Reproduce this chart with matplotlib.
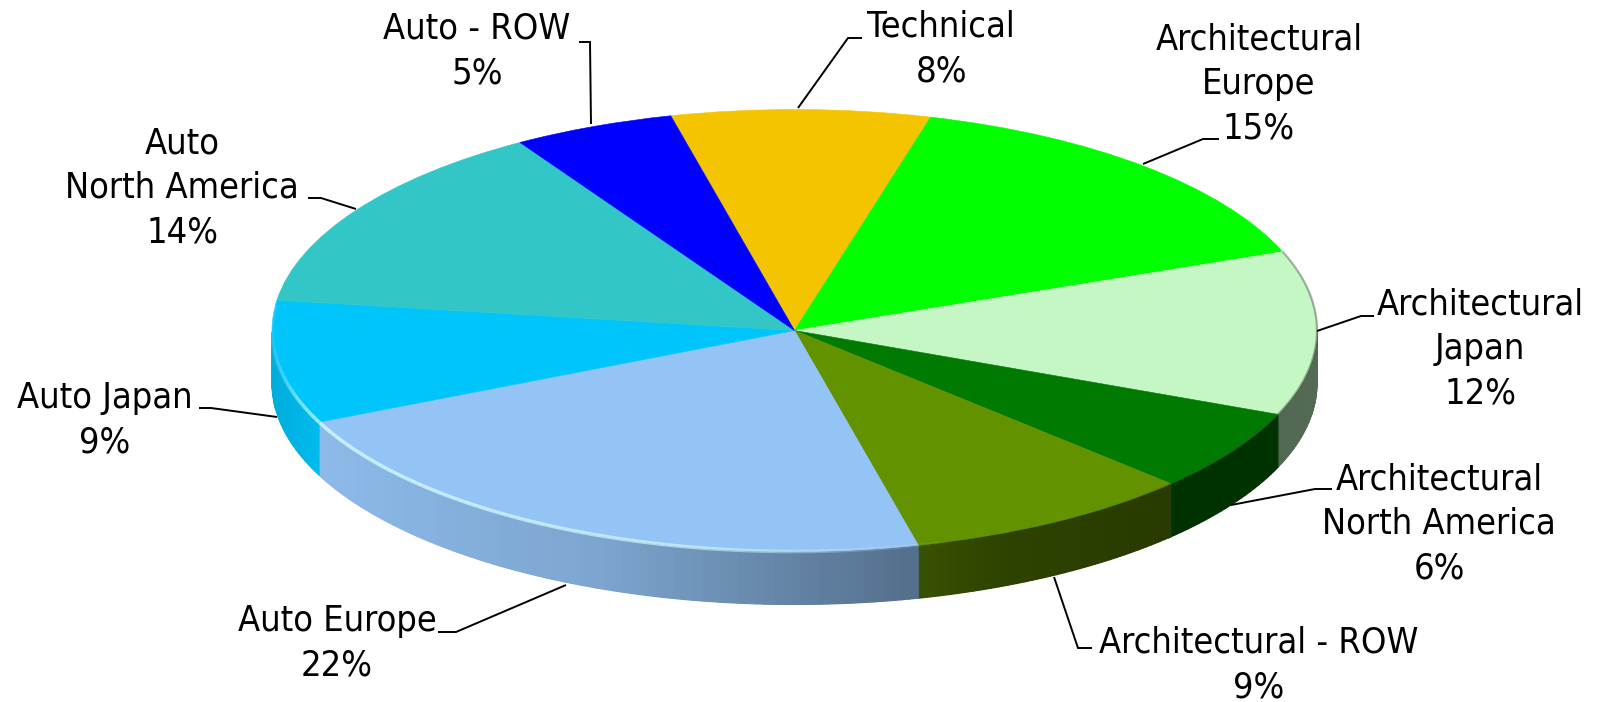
import numpy as np
import matplotlib
matplotlib.use("Agg")
import matplotlib.pyplot as plt
from matplotlib.collections import PolyCollection, LineCollection
from matplotlib.colors import to_rgb

# ---- data ----
categories = ["Technical", "Architectural\nEurope", "Architectural\nJapan",
              "Architectural\nNorth America", "Architectural - ROW", "Auto Europe",
              "Auto Japan", "Auto\nNorth America", "Auto - ROW"]
shares = [8, 15, 12, 6, 9, 22, 9, 14, 5]
colors = ["#F5C400", "#00FF00", "#C5F7C5", "#007A00", "#639200", "#94C4F6",
          "#00C5FA", "#32C6C6", "#0000FF"]

# ---- layout (pixels of the 1598x702 canvas) ----
W, H = 1598, 702
CX, CY, RX, RY, DEPTH = 794.5, 330.5, 522.5, 221.0, 53.0
START = 103.7
FS = 25.9
LINESP = 1.375
label_pos = [(941, 49), (1259, 84), (1480, 349), (1439, 524), (1259, 665),
             (337, 643), (105, 420), (182, 188), (477, 51)]
leaders = [[(862, 38), (848, 38), (798, 108)],
           [(1219, 139), (1203, 139), (1143, 164)],
           [(1374, 316), (1361, 316), (1317, 331)],
           [(1332, 489), (1315, 489), (1231, 505)],
           [(1092, 648), (1078, 648), (1054, 577)],
           [(438, 632), (456, 632), (566, 585)],
           [(199, 408), (211, 408), (277, 417)],
           [(308, 198), (321, 198), (356, 209)],
           [(579, 42), (590, 42), (591, 124)]]

fig = plt.figure(figsize=(W / 100, H / 100), dpi=100, facecolor="white")
ax = fig.add_axes([0, 0, 1, 1])

wedges, _ = ax.pie(shares, colors=colors, startangle=START, counterclock=False,
                   wedgeprops=dict(linewidth=0.4, zorder=2))
for w, c in zip(wedges, colors):
    w.set_edgecolor(c)
ax.set_aspect("auto")
ax.set_xlim(-CX / RX, (W - CX) / RX)
ax.set_ylim((CY - H) / RY, CY / RY)
ax.axis("off")

d = DEPTH / RY
shade_x = [-1.0, -0.91, -0.37, 0.24, 0.39, 0.72, 1.0]
shade_v = [0.88, 0.95, 0.84, 0.56, 0.46, 0.40, 0.43]

polys, polycols, segs, segcols, seglws = [], [], [], [], []
edges = START - np.cumsum([0] + shares) * 3.6
for i, c in enumerate(colors):
    rgb = np.array(to_rgb(c))
    th = np.radians(np.arange(edges[i], edges[i + 1] - 0.5, -1.0))
    th = np.append(th, np.radians(edges[i + 1]))
    base_top, base_bot, base_f = [], [], []
    for a, b in zip(th[:-1], th[1:]):
        xa, ya, xb, yb = np.cos(a), np.sin(a), np.cos(b), np.sin(b)
        xm, ym = (xa + xb) / 2, (ya + yb) / 2
        if ym < 0.0:
            f = np.interp(xm, shade_x, shade_v)
            col = rgb * f
            polys.append([(xa, ya), (xb, yb), (xb, yb - d), (xa, ya - d)])
            polycols.append(col)
            base_top += [(xa, ya), (xb, yb)]
            base_bot += [(xa, ya - d), (xb, yb - d)]
            base_f.append(f)
        # rim of the top face: light bevel on the left, dark on the right
        if xm < 0.3 and ym < 0.12:
            s = np.interp(xm, [-1, -0.95, -0.9, -0.2, 0.3], [0.12, 0.5, 0.75, 0.6, 0.0])
            segs.append([(xa, ya), (xb, yb)])
            segcols.append((0.85, 1, 1, s))
            seglws.append(2.6)
        elif xm > 0.55 and ym < 0.36:
            s = np.interp(xm, [0.55, 0.85, 1.0], [0.0, 0.3, 0.45])
            segs.append([(xa, ya), (xb, yb)])
            segcols.append((0.25, 0.3, 0.25, s))
            seglws.append(1.6)
    if base_top:
        ax.fill(*zip(*(base_top + base_bot[::-1])), color=rgb * np.mean(base_f),
                lw=0, zorder=0.9)

ax.add_collection(PolyCollection(polys, facecolors=polycols, edgecolors=polycols,
                                 linewidths=0.8, zorder=1))
ax.add_collection(LineCollection(segs, colors=segcols, linewidths=seglws, zorder=3))

# labels and leader lines in canvas pixels
ov = fig.add_axes([0, 0, 1, 1], facecolor="none")
ov.set_xlim(0, W)
ov.set_ylim(H, 0)
ov.axis("off")
for name, v, (x, y), pts in zip(categories, shares, label_pos, leaders):
    ov.text(x, y, f"{name}\n{v}%", ha="center", va="center", fontsize=FS,
            family="DejaVu Sans", stretch="condensed", linespacing=LINESP, color="black")
    ov.plot(*zip(*pts), color="black", lw=1.4, solid_joinstyle="miter", solid_capstyle="butt")

fig.savefig("out.png", dpi=100)
